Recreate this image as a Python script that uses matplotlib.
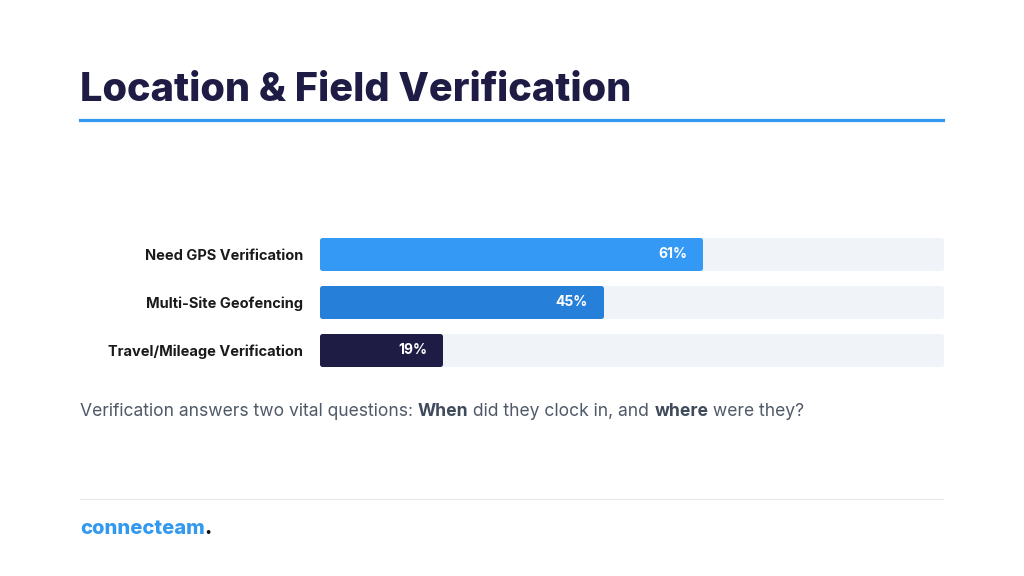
import matplotlib.pyplot as plt
import numpy as np

# chart data
categories = ["Need GPS Verification", "Multi-Site Geofencing", "Travel/Mileage Verification"]
values = [61, 45, 19]
bar_colors = ["#3399f5", "#2680d9", "#1e1b45"]

title = "Location & Field Verification"
note_parts = [("Verification answers two vital questions: ", "normal"),
              ("When", "bold"),
              (" did they clock in, and ", "normal"),
              ("where", "bold"),
              (" were they?", "normal")]

plt.rcParams['font.family'] = ['Inter', 'DejaVu Sans']

W, H = 1024, 576
fig = plt.figure(figsize=(W / 100, H / 100), dpi=100)
fig.patch.set_facecolor("white")

def fx(px):
    return px / W

def fy(py):
    return 1 - py / H

# title + rules
fig.text(fx(80), fy(101), title, fontsize=28.6, weight="heavy", color="#1e1b45", va="baseline")
fig.add_artist(plt.Line2D([fx(80), fx(943)], [fy(119.5), fy(119.5)], color="#3399ee", lw=2.3))
fig.add_artist(plt.Line2D([fx(80), fx(943)], [fy(499), fy(499)], color="#e6e8ec", lw=0.8))

# bar axes (track spans ~320-943 px including rounded edge)
ax = fig.add_axes([fx(322), fy(374), fx(941) - fx(322), (374 - 230) / H])
ax.set_xlim(0, 100)
ax.set_ylim(len(categories) - 0.5, -0.5)
y = np.arange(len(categories))
ax.barh(y, [100] * len(categories), height=0.6, color="#f0f3f8", edgecolor="#f0f3f8",
        linewidth=3.6, joinstyle="round", clip_on=False)
ax.barh(y, values, height=0.6, color=bar_colors, edgecolor=bar_colors,
        linewidth=3.6, joinstyle="round", clip_on=False)
for i, v in enumerate(values):
    ax.annotate(f"{v}%", (v, i), xytext=(-9, 0), textcoords="offset points",
                ha="right", va="center", color="white", fontsize=10, weight="bold")
ax.set_yticks(y)
ax.set_yticklabels(categories, fontsize=10.5, weight="bold", color="#1a1a1a")
ax.tick_params(axis="y", length=0, pad=13.5)
ax.set_xticks([])
for s in ax.spines.values():
    s.set_visible(False)
ax.set_facecolor("none")

# footnote with mixed weights
fig.canvas.draw()
renderer = fig.canvas.get_renderer()
x0 = fx(80)
for txt, w in note_parts:
    t = fig.text(x0, fy(416), txt, fontsize=12.6, weight=w,
                 color="#3f4a5a" if w == "bold" else "#4f5968", va="baseline")
    bb = t.get_window_extent(renderer)
    x0 = bb.x1 / W

# logo
t = fig.text(fx(80), fy(534), "connecteam", fontsize=14.5, weight="heavy", color="#3399ee", va="baseline")
bb = t.get_window_extent(renderer)
fig.text(bb.x1 / W, fy(534), ".", fontsize=14.5, weight="heavy", color="#111111", va="baseline")

fig.savefig("out.png", dpi=100, facecolor="white")
